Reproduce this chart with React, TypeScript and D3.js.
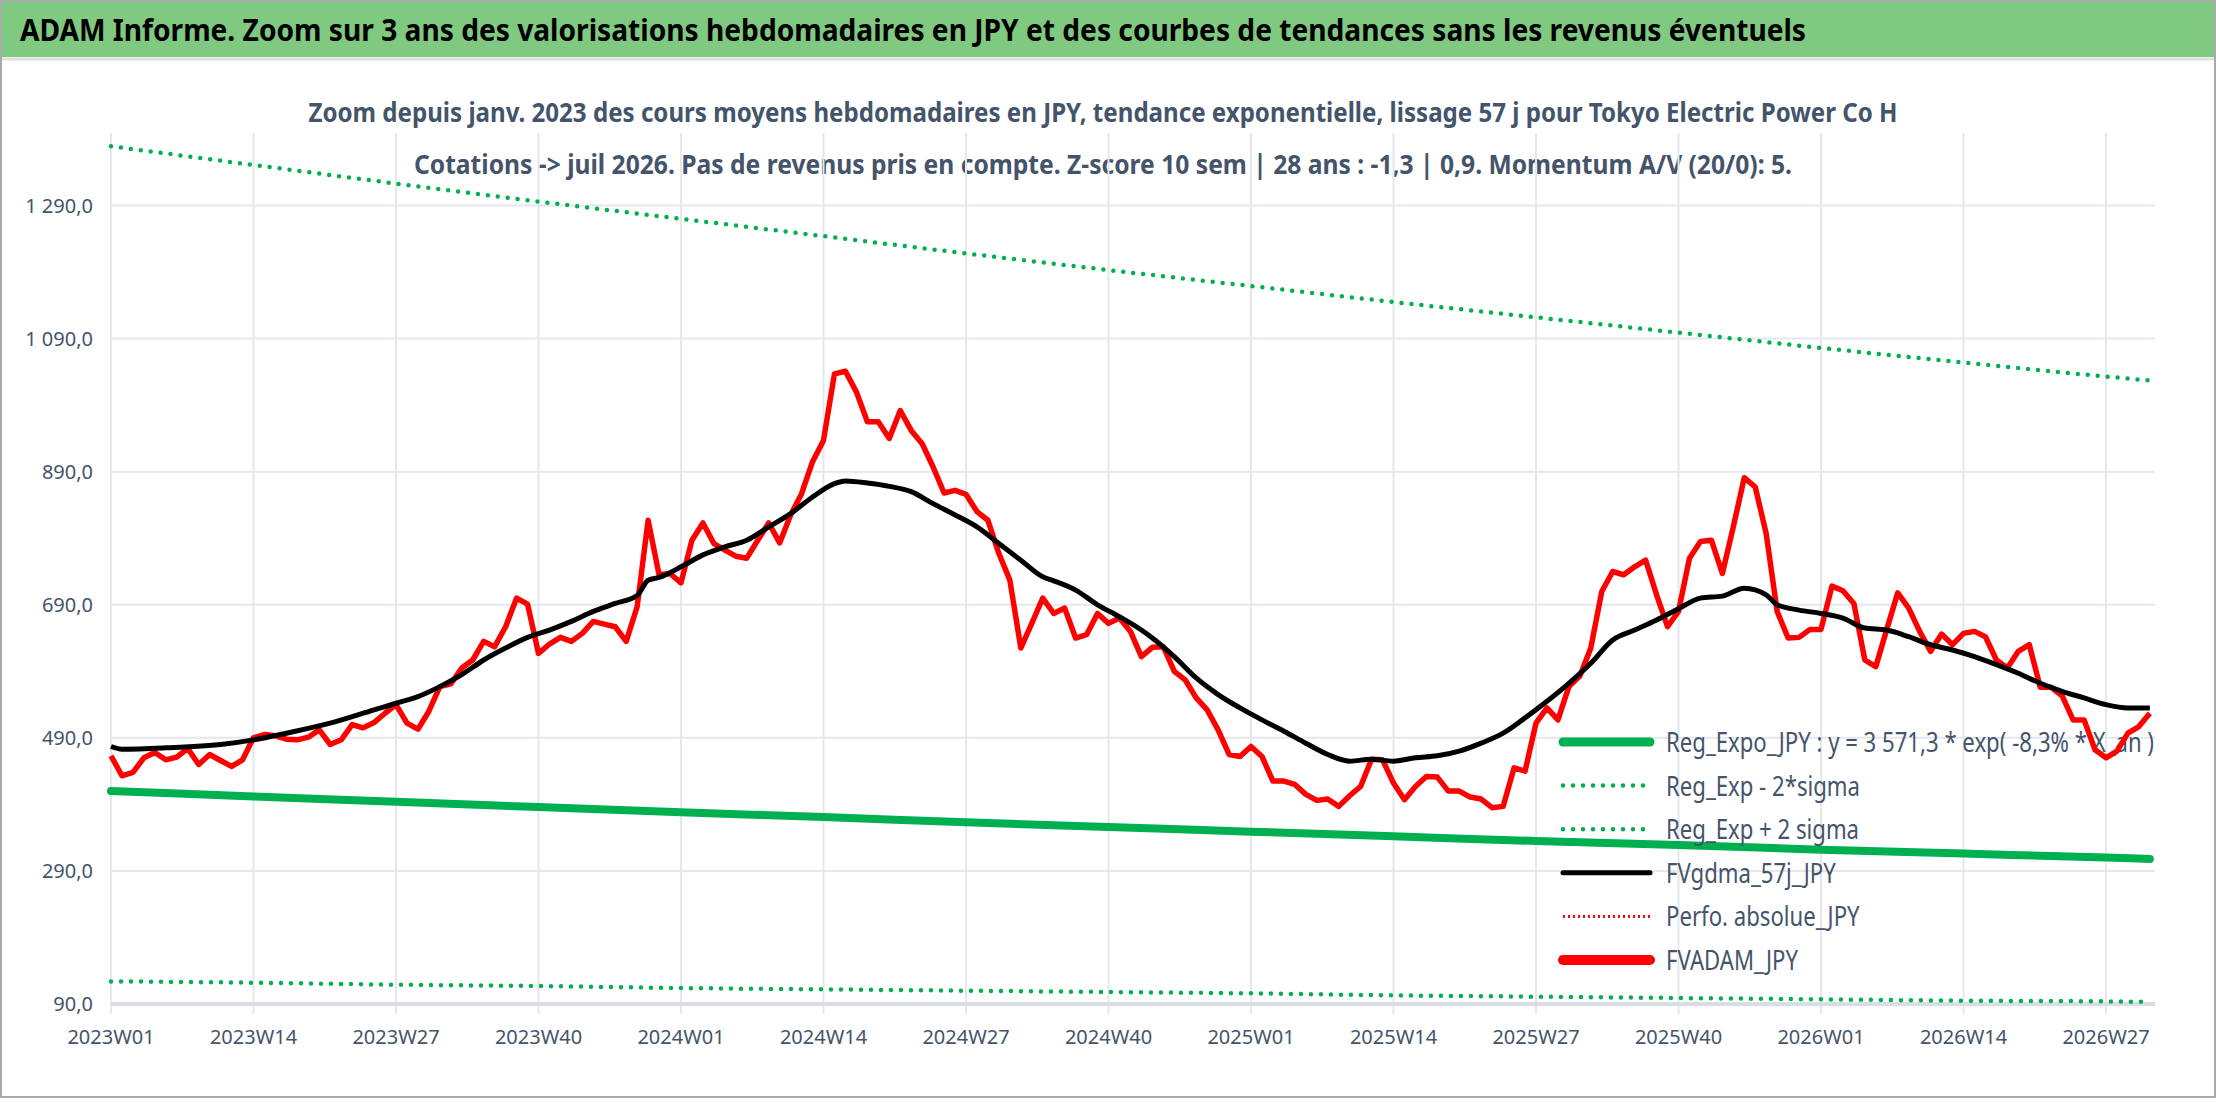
import React, { useEffect, useRef } from 'react';
import * as d3 from 'd3';

// weekly index 0 = 2023W01
const xTickLabels = ['2023W01', '2023W14', '2023W27', '2023W40', '2024W01', '2024W14', '2024W27', '2024W40',
  '2025W01', '2025W14', '2025W27', '2025W40', '2026W01', '2026W14', '2026W27'];
const yTicks = [90, 290, 490, 690, 890, 1090, 1290];

// FVADAM_JPY weekly values (w0..w186)
const fvadam = [
  463, 433, 438, 460, 468, 457, 461, 474, 450, 465, 456, 447, 457, 490, 495, 493, 488, 487, 491, 502,
  480, 487, 510, 505, 513, 527, 540, 512, 503, 530, 567, 571, 595, 607, 635, 627, 657, 700, 691, 617,
  631, 641, 635, 647, 665, 661, 657, 635, 687, 817, 735, 737, 723, 787, 813, 782, 772, 763, 760, 787,
  813, 783, 825, 857, 905, 937, 1037, 1041, 1010, 965, 965, 940, 982, 952, 932, 897, 858, 862, 856, 830,
  817, 767, 727, 625, 662, 700, 677, 685, 640, 645, 677, 662, 670, 650, 612, 626, 627, 590, 577, 550,
  532, 502, 465, 462, 477, 462, 425, 425, 420, 405, 396, 398, 387, 403, 417, 458, 457, 422, 397, 417,
  432, 431, 410, 410, 401, 398, 385, 387, 445, 440, 512, 535, 517, 567, 583, 625, 710, 740, 735, 747,
  757, 705, 657, 680, 760, 785, 787, 737, 807, 881, 867, 797, 680, 640, 641, 653, 653, 718, 711, 692,
  607, 597, 653, 708, 685, 650, 620, 646, 630, 647, 650, 642, 607, 595, 620, 630, 566, 566, 553, 517,
  517, 472, 460, 470, 497, 507, 527,
];

// FVgdma_57j_JPY read at [week, value]
const gdma: [number, number][] = [
  [0, 477], [1, 473], [5, 475], [10, 480], [13, 487], [16, 497], [20, 512], [24, 532], [26, 542], [28, 552],
  [30, 567], [32, 585], [34, 607], [36, 625], [38, 641], [40, 652], [42, 665], [44, 680], [46, 692], [48, 704],
  [49, 727], [50, 731], [52, 747], [54, 765], [56, 777], [58, 787], [60, 807], [62, 827], [64, 852], [66, 872],
  [67, 876], [69, 873], [71, 868], [73, 860], [75, 842], [77, 825], [79, 807], [81, 782], [83, 757], [85, 732],
  [86, 726], [88, 712], [90, 690], [92, 672], [94, 652], [95, 640], [97, 612], [99, 580], [101, 555], [103, 535],
  [105, 517], [107, 500], [109, 482], [111, 465], [113, 455], [115, 458], [117, 455], [119, 460], [121, 463],
  [123, 470], [125, 482], [127, 497], [129, 520], [131, 545], [133, 572], [135, 602], [137, 637], [139, 652],
  [141, 667], [143, 684], [145, 700], [147, 703], [149, 715], [151, 705], [152, 690], [154, 682], [156, 677],
  [158, 670], [160, 655], [162, 652], [164, 642], [166, 630], [168, 622], [170, 612], [172, 600], [174, 587],
  [176, 572], [178, 560], [180, 550], [182, 540], [184, 535], [186, 535],
];

// trend lines read every 13 weeks, plus last week
const trendWeeks = [0, 13, 26, 39, 52, 65, 78, 91, 104, 117, 130, 143, 156, 169, 182, 186];
const regExpo = [410, 402, 394, 386, 378, 371, 363, 356, 349, 342, 335, 329, 322, 316, 310, 308];
const regPlus2 = [1379, 1351, 1323, 1296, 1270, 1244, 1218, 1193, 1169, 1145, 1122, 1099, 1076, 1054, 1033, 1027];
const regMinus2 = [124, 122, 119, 117, 114, 112, 110, 108, 106, 103, 101, 99, 97, 95, 94, 93];

const legendItems = [
  { label: 'Reg_Expo_JPY : y = 3 571,3 * exp( -8,3% *  X_an )', color: '#00b050', width: 9, dash: null },
  { label: 'Reg_Exp - 2*sigma', color: '#00b050', width: 4.5, dash: '0 10' },
  { label: 'Reg_Exp + 2 sigma', color: '#00b050', width: 4.5, dash: '0 10' },
  { label: 'FVgdma_57j_JPY', color: '#000000', width: 5, dash: null },
  { label: 'Perfo. absolue_JPY', color: '#ff0000', width: 3, dash: '2 3' },
  { label: 'FVADAM_JPY', color: '#ff0000', width: 10, dash: null },
];

const W = 2216, H = 1102;
const FONT = '"Noto Sans", sans-serif';
const TXT = '#44546a';

export default function App() {
  const ref = useRef<SVGSVGElement>(null);

  useEffect(() => {
    document.body.style.margin = '0';
    const svg = d3.select(ref.current);
    svg.selectAll('*').remove();

    const x = d3.scaleLinear().domain([0, 182]).range([111, 2106]);
    const y = d3.scaleLinear().domain([90, 1390]).range([1004, 139]);

    svg.append('rect').attr('width', W).attr('height', H).attr('fill', '#fff');
    svg.append('rect').attr('x', 0).attr('y', 0).attr('width', W).attr('height', 57).attr('fill', '#80c980');
    svg.append('line').attr('x1', 0).attr('x2', W).attr('y1', 59).attr('y2', 59).attr('stroke', '#e0e0e0').attr('stroke-width', 3);
    svg.append('rect').attr('x', 1).attr('y', 1).attr('width', W - 2).attr('height', H - 6)
      .attr('fill', 'none').attr('stroke', '#aaa').attr('stroke-width', 2);

    svg.append('text').attr('x', 20).attr('y', 41).attr('font-family', FONT).attr('font-weight', 'bold')
      .attr('font-size', 31).attr('fill', '#000').attr('textLength', 1786).attr('lengthAdjust', 'spacingAndGlyphs')
      .text('ADAM Informe. Zoom sur 3 ans des valorisations hebdomadaires en JPY et des courbes de tendances sans les revenus éventuels');

    svg.append('text').attr('x', 1103).attr('y', 122).attr('text-anchor', 'middle').attr('font-family', FONT)
      .attr('font-weight', 'bold').attr('font-size', 26).attr('fill', TXT).attr('textLength', 1589).attr('lengthAdjust', 'spacingAndGlyphs')
      .text('Zoom depuis janv. 2023 des cours moyens hebdomadaires en JPY, tendance exponentielle, lissage 57 j pour Tokyo Electric Power Co H');
    svg.append('text').attr('x', 1103).attr('y', 174).attr('text-anchor', 'middle').attr('font-family', FONT)
      .attr('font-weight', 'bold').attr('font-size', 26).attr('fill', TXT).attr('textLength', 1378).attr('lengthAdjust', 'spacingAndGlyphs')
      .text('Cotations -> juil 2026. Pas de revenus pris en compte. Z-score 10 sem | 28 ans : -1,3 | 0,9. Momentum A/V (20/0): 5.');

    // grid
    const grid = svg.append('g');
    xTickLabels.forEach((_, i) => {
      grid.append('line').attr('x1', x(i * 13)).attr('x2', x(i * 13)).attr('y1', 133).attr('y2', 1014)
        .attr('stroke', '#e4e7ee').attr('stroke-width', 2);
    });
    yTicks.forEach(v => {
      grid.append('line').attr('x1', 111).attr('x2', 2155).attr('y1', y(v)).attr('y2', y(v))
        .attr('stroke', v === 90 ? '#d9dde5' : '#e4e7ee').attr('stroke-width', v === 90 ? 4 : 2);
    });

    const fmt = (v: number) => {
      const s = v.toFixed(1).replace('.', ',');
      return v >= 1000 ? s.replace(/^(\d)(\d{3})/, '$1 $2') : s;
    };
    yTicks.forEach(v => {
      svg.append('text').attr('x', 93).attr('y', y(v) + 7).attr('text-anchor', 'end').attr('font-family', FONT)
        .attr('font-size', 20).attr('fill', TXT).text(fmt(v));
    });
    xTickLabels.forEach((l, i) => {
      svg.append('text').attr('x', x(i * 13)).attr('y', 1044).attr('text-anchor', 'middle').attr('font-family', FONT)
        .attr('font-size', 20).attr('fill', TXT).text(l);
    });

    const line = d3.line<[number, number]>().x(d => x(d[0])).y(d => y(d[1]));
    const trend = (vals: number[]) => trendWeeks.map((w, i) => [w, vals[i]] as [number, number]);

    svg.append('path').attr('d', line.curve(d3.curveMonotoneX)(trend(regPlus2))).attr('fill', 'none')
      .attr('stroke', '#00b050').attr('stroke-width', 4.5).attr('stroke-dasharray', '0 10').attr('stroke-linecap', 'round');
    svg.append('path').attr('d', line.curve(d3.curveMonotoneX)(trend(regMinus2))).attr('fill', 'none')
      .attr('stroke', '#00b050').attr('stroke-width', 4.5).attr('stroke-dasharray', '0 10').attr('stroke-linecap', 'round');
    svg.append('path').attr('d', line.curve(d3.curveMonotoneX)(trend(regExpo))).attr('fill', 'none')
      .attr('stroke', '#00b050').attr('stroke-width', 8).attr('stroke-linecap', 'round');

    // legend (drawn under data lines as in the original); narrow font squeezed via textLength
    let squeeze = 1;
    legendItems.forEach((it, i) => {
      const ly = 742 + i * 43.6;
      svg.append('line').attr('x1', 1563).attr('x2', 1650).attr('y1', ly).attr('y2', ly)
        .attr('stroke', it.color).attr('stroke-width', it.width)
        .attr('stroke-dasharray', it.dash).attr('stroke-linecap', it.dash === '0 10' || !it.dash ? 'round' : 'butt');
      const t = svg.append('text').attr('x', 1666).attr('y', ly + 10).attr('font-family', FONT).attr('font-size', 27)
        .attr('fill', TXT).text(it.label);
      const len = (t.node() as SVGTextElement).getComputedTextLength();
      if (i === 0) squeeze = 488 / len;
      t.attr('textLength', len * squeeze).attr('lengthAdjust', 'spacingAndGlyphs');
    });

    svg.append('path').attr('d', line.curve(d3.curveLinear)(fvadam.map((v, i) => [i, v] as [number, number])))
      .attr('fill', 'none').attr('stroke', '#ff0000').attr('stroke-width', 5.5).attr('stroke-linejoin', 'round');
    svg.append('path').attr('d', line.curve(d3.curveMonotoneX)(gdma)).attr('fill', 'none')
      .attr('stroke', '#000').attr('stroke-width', 5).attr('stroke-linejoin', 'round');
  }, []);

  return <svg ref={ref} width={W} height={H} style={{ display: 'block' }} />;
}
